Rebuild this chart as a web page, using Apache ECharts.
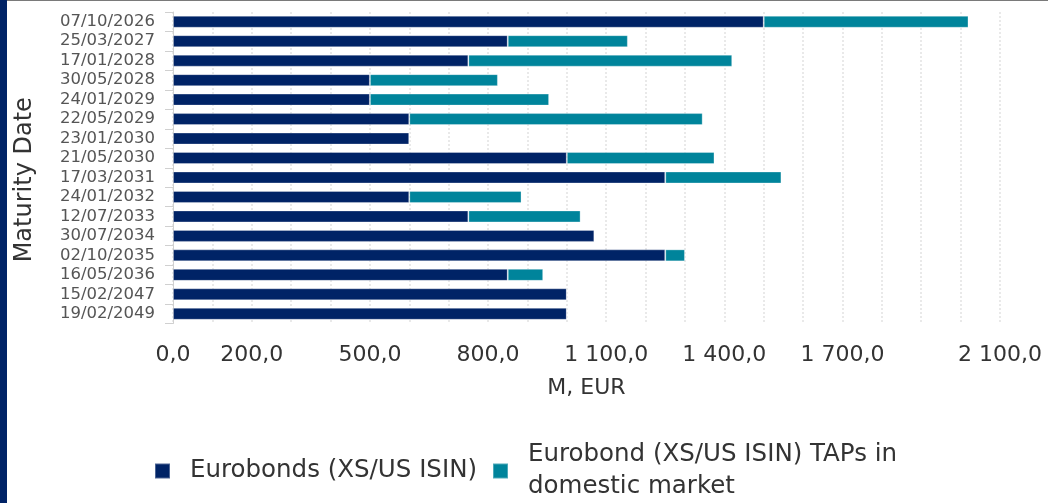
<!DOCTYPE html>
<html>
<head>
<meta charset="utf-8">
<script src="https://cdn.jsdelivr.net/npm/echarts@6/dist/echarts.min.js"></script>
<style>
  html, body { margin: 0; padding: 0; background: #fff; }
  #chart { position: absolute; left: 0; top: 0; width: 1048px; height: 503px; }
  .edge-left { position: absolute; left: 0; top: 0; width: 7px; height: 503px; background: #002366; }
  .edge-top { position: absolute; left: 0; top: 0; width: 1048px; height: 1px; background: #7a7a7a; }
</style>
</head>
<body>
<div id="chart"></div>
<div class="edge-top"></div>
<div class="edge-left"></div>
<script>
// Maturity dates (top to bottom)
const dates = ['07/10/2026', '25/03/2027', '17/01/2028', '30/05/2028', '24/01/2029', '22/05/2029',
  '23/01/2030', '21/05/2030', '17/03/2031', '24/01/2032', '12/07/2033', '30/07/2034',
  '02/10/2035', '16/05/2036', '15/02/2047', '19/02/2049'];
// M, EUR
const eurobonds = [1500, 850, 750, 500, 500, 600, 600, 1000, 1250, 600, 750, 1070, 1250, 850, 1000, 1000];
const taps = [520, 305, 670, 325, 455, 745, 0, 375, 295, 285, 285, 0, 50, 90, 0, 0];
// tick labels that are shown on the value axis
const tickLabels = [0, 200, 500, 800, 1100, 1400, 1700, 2100];

const FONT = '"DejaVu Sans", Verdana, sans-serif';

function fmt(v) {
  return String(v).replace(/\B(?=(\d{3})+(?!\d))/g, ' ') + ',0';
}

const chart = echarts.init(document.getElementById('chart'));
chart.setOption({
  animation: false,
  grid: { left: 173, right: 48, top: 12, height: 311.5 },
  legend: {
    left: 154,
    top: 439,
    padding: 0,
    itemWidth: 15,
    itemHeight: 15,
    itemGap: 15,
    icon: 'rect',
    textStyle: {
      fontFamily: FONT,
      fontSize: 24.5,
      lineHeight: 32,
      color: '#333',
      padding: [0, 0, 0, 15]
    },
    formatter: function (name) {
      return name === 'Eurobond (XS/US ISIN) TAPs in domestic market'
        ? 'Eurobond (XS/US ISIN) TAPs in\ndomestic market' : name;
    }
  },
  xAxis: {
    type: 'value',
    min: 0,
    max: 2100,
    interval: 100,
    name: 'M, EUR',
    nameLocation: 'middle',
    nameGap: 54,
    nameTextStyle: { fontFamily: FONT, fontSize: 22, color: '#333' },
    axisLine: { show: false },
    axisTick: { show: false },
    axisLabel: {
      margin: 21,
      fontFamily: FONT,
      fontSize: 22,
      color: '#333',
      formatter: function (v) { return tickLabels.indexOf(v) >= 0 ? fmt(v) : ''; }
    },
    splitLine: { show: true, lineStyle: { color: '#e2e2e2', type: [2, 2], width: 1.5 } }
  },
  yAxis: {
    type: 'category',
    inverse: true,
    data: dates,
    name: 'Maturity Date',
    nameLocation: 'middle',
    nameGap: 136,
    nameTextStyle: { fontFamily: FONT, fontSize: 24, color: '#333', padding: [0, 24, 0, 0] },
    axisLine: { show: true, lineStyle: { color: '#d0d0d0' } },
    axisTick: { show: true, length: 8, lineStyle: { color: '#d0d0d0' } },
    axisLabel: { interval: 0, margin: 18, fontFamily: FONT, fontSize: 16.5, color: '#555' }
  },
  series: [
    {
      name: 'Eurobonds (XS/US ISIN)',
      type: 'bar',
      stack: 'total',
      barWidth: 12,
      data: eurobonds,
      itemStyle: { color: '#002366', borderColor: 'rgba(255,255,255,0.3)', borderWidth: 1 }
    },
    {
      name: 'Eurobond (XS/US ISIN) TAPs in domestic market',
      type: 'bar',
      stack: 'total',
      barWidth: 12,
      data: taps,
      itemStyle: { color: '#00849b', borderColor: 'rgba(255,255,255,0.3)', borderWidth: 1 }
    }
  ]
});
</script>
</body>
</html>
